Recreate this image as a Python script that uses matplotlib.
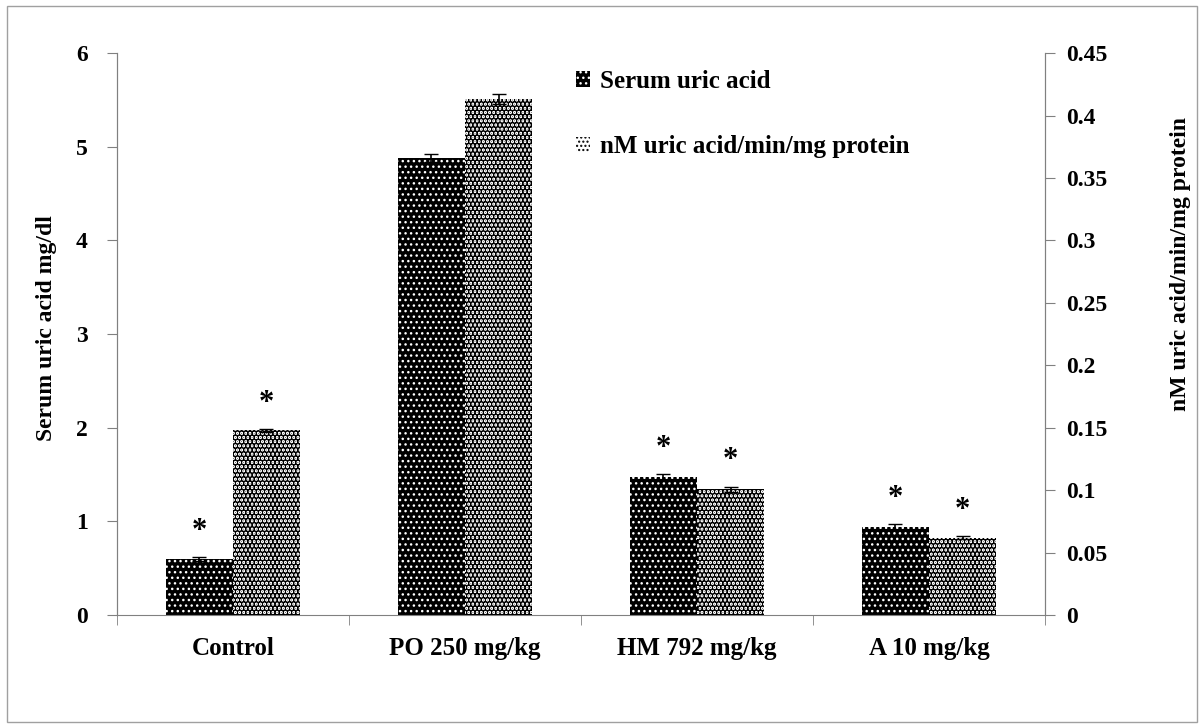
import numpy as np
import matplotlib
matplotlib.use("Agg")
import matplotlib.pyplot as plt
from matplotlib.patches import Patch

plt.rcParams['font.family'] = ['Liberation Serif', 'DejaVu Serif']
plt.rcParams['font.weight'] = 'bold'
plt.rcParams['axes.labelweight'] = 'bold'

# data
groups = ["Control", "PO 250 mg/kg", "HM 792 mg/kg", "A 10 mg/kg"]
serum = [0.60, 4.88, 1.47, 0.94]
serum_err = [0.02, 0.04, 0.04, 0.03]
enzyme = [0.148, 0.413, 0.101, 0.062]
enzyme_err = [0.001, 0.004, 0.002, 0.001]
serum_star = [True, False, True, True]
enzyme_star = [True, False, True, True]

fig = plt.figure(figsize=(12.04, 7.28), dpi=100)
# light frame around the whole chart
fig.patches.append(plt.Rectangle((0.006, 0.008), 0.988, 0.984, transform=fig.transFigure,
                                 fill=False, edgecolor='#a0a0a0', lw=1))
ax = fig.add_axes([0.097, 0.155, 0.771, 0.772])
ax2 = ax.twinx()

x = np.arange(len(groups))
w = 0.29
gray = '#808080'

with plt.rc_context({'hatch.linewidth': 1.0}):
    ax.bar(x - w / 2, serum, w, color='black', edgecolor='white', hatch='...', lw=0, zorder=2)
    h1 = Patch(facecolor='black', edgecolor='white', hatch='...', lw=0)
ax.errorbar(x - w / 2, serum, yerr=serum_err, fmt='none', ecolor='black', capsize=5, lw=1.2, zorder=3)
with plt.rc_context({'hatch.linewidth': 3.0}):
    ax2.bar(x + w / 2, enzyme, w, color='white', edgecolor='black', hatch='....', lw=0, zorder=2)
    h2 = Patch(facecolor='white', edgecolor='black', hatch='....', lw=0)
ax2.errorbar(x + w / 2, enzyme, yerr=enzyme_err, fmt='none', ecolor='black', capsize=5, lw=1.2, zorder=3)

for i in range(len(groups)):
    if serum_star[i]:
        ax.annotate('*', (x[i] - w / 2, serum[i] + serum_err[i]), xytext=(0, 8),
                    textcoords='offset points', ha='center', va='bottom', fontsize=22)
    if enzyme_star[i]:
        ax2.annotate('*', (x[i] + w / 2, enzyme[i] + enzyme_err[i]), xytext=(0, 8),
                     textcoords='offset points', ha='center', va='bottom', fontsize=22)

ax.set_xlim(-0.5, len(groups) - 0.5)
ax.set_ylim(0, 6)
ax2.set_ylim(0, 0.45)
ax.set_yticks(np.arange(0, 7, 1))
ax2.set_yticks(np.arange(0, 0.46, 0.05))
ax2.set_yticklabels(['0', '0.05', '0.1', '0.15', '0.2', '0.25', '0.3', '0.35', '0.4', '0.45'])
ax.set_xticks(x)
ax.set_xticklabels(groups, fontsize=18)
ax.set_xticks(np.arange(-0.5, len(groups)), minor=True)
ax.tick_params(axis='x', which='major', length=0, pad=16)
ax.tick_params(axis='x', which='minor', length=7, color=gray)
ax.tick_params(axis='y', labelsize=17, length=7, color=gray, pad=14)
ax2.tick_params(axis='y', labelsize=17, length=7, color=gray, pad=8)

for a in (ax, ax2):
    a.spines['top'].set_visible(False)
    for s in ('left', 'right', 'bottom'):
        a.spines[s].set_color(gray)
ax2.spines['bottom'].set_visible(False)

ax.set_ylabel('Serum uric acid mg/dl', fontsize=17)
ax2.set_ylabel('nM uric acid/min/mg protein', fontsize=17, rotation=90)
ax.yaxis.set_label_coords(-0.064, 0.51)
ax2.yaxis.set_label_coords(1.135, 0.625)

fig.legend([h1, h2], ['Serum uric acid', 'nM uric acid/min/mg protein'], loc='upper left',
           bbox_to_anchor=(0.46, 0.935), frameon=False, fontsize=18, labelspacing=1.7,
           handlelength=0.55, handleheight=0.55, handletextpad=0.4)

fig.savefig('out.png', dpi=100)
